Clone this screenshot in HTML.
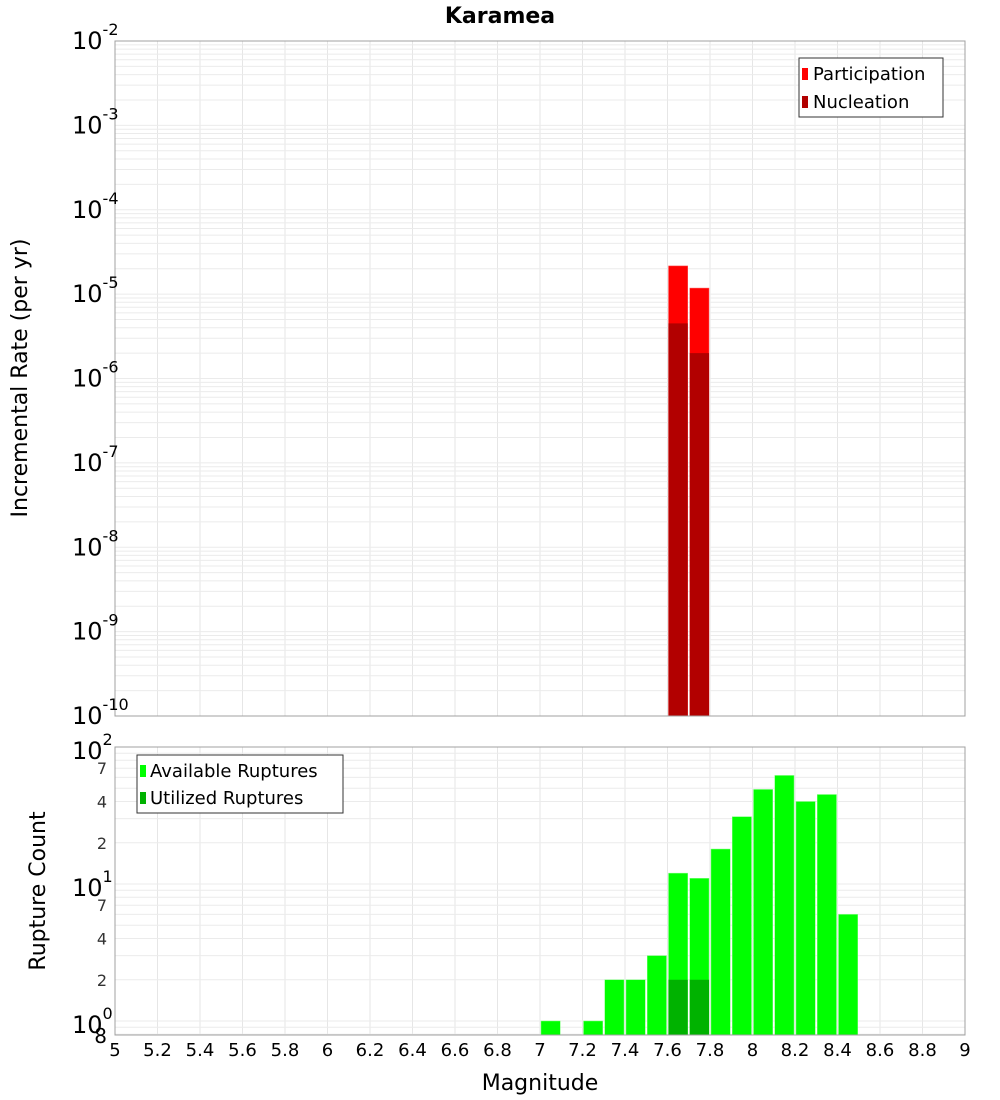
<!DOCTYPE html>
<html><head><meta charset="utf-8"><style>
body{margin:0;background:#fff;}
svg{display:block;font-family:"DejaVu Sans","Liberation Sans",sans-serif;}
</style></head><body>
<svg id="chart" width="1000" height="1100"></svg>
<script>
const magBins=[7.65,7.75];
const participation=[2.16e-5,1.18e-5];
const nucleation=[4.5e-6,2.0e-6];
const countBins=[7.05,7.25,7.35,7.45,7.55,7.65,7.75,7.85,7.95,8.05,8.15,8.25,8.35,8.45];
const available=[1,1,2,2,3,12,11,18,31,49,62,40,45,6];
const utilBins=[7.65,7.75];
const utilized=[2,2];
const xTicks=["5","5.2","5.4","5.6","5.8","6","6.2","6.4","6.6","6.8","7","7.2","7.4","7.6","7.8","8","8.2","8.4","8.6","8.8","9"];
const topExps=[-2,-3,-4,-5,-6,-7,-8,-9,-10];
const botMinor=[["7",70],["4",40],["2",20],["7",7],["4",4],["2",2]];

const NS="http://www.w3.org/2000/svg";
const svg=document.getElementById('chart');
function el(t,a,txt){const e=document.createElementNS(NS,t);for(const k in a)e.setAttribute(k,a[k]);if(txt!==undefined)e.textContent=txt;svg.appendChild(e);return e;}
const X0=115,X1=965;
const x=v=>X0+(v-5)/4*(X1-X0);
const T0=41,T1=716;
const yT=v=>T0+(-2-Math.log10(v))/8*(T1-T0);
const B0=747,B1=1035;
const yB=v=>1021-Math.log10(v)*137;

// plot backgrounds
let r=el('rect',{x:X0,y:T0,width:X1-X0,height:T1-T0,fill:'#fff'});

r=el('rect',{x:X0,y:B0,width:X1-X0,height:B1-B0,fill:'#fff'});


// grid
for(let i=0;i<xTicks.length;i++){const xv=x(5+i*0.2);
 let g=el('line',{x1:xv,x2:xv,y1:T0,y2:T1,stroke:'#e6e6e6'});
 g=el('line',{x1:xv,x2:xv,y1:B0,y2:B1,stroke:'#e6e6e6'});}
for(let e=-10;e<-2;e++)for(let m=1;m<10;m++){const yy=yT(m*Math.pow(10,e));
 const g=el('line',{x1:X0,x2:X1,y1:yy,y2:yy,stroke:'#ebebeb'});}
for(let e=-1;e<2;e++)for(let m=1;m<10;m++){const v=m*Math.pow(10,e);const yy=yB(v);if(yy>B1||yy<B0)continue;
 const g=el('line',{x1:X0,x2:X1,y1:yy,y2:yy,stroke:'#ebebeb'});}

const bw=x(5.1)-x(5)-2;
// top bars
magBins.forEach((m,i)=>{const b=el('rect',{x:x(m-0.05)+1,y:yT(participation[i]),width:bw,height:T1-yT(participation[i]),fill:'#ff0000',stroke:'#ff6060','stroke-width':0.5});
 });
magBins.forEach((m,i)=>{const b=el('rect',{x:x(m-0.05)+1,y:yT(nucleation[i]),width:bw,height:T1-yT(nucleation[i]),fill:'#b20000'});
 });
// bottom bars
countBins.forEach((m,i)=>{const b=el('rect',{x:x(m-0.05)+1,y:yB(available[i]),width:bw,height:B1-yB(available[i]),fill:'#00ff00',stroke:'#80ff80','stroke-width':0.5});
 });
utilBins.forEach((m,i)=>{const b=el('rect',{x:x(m-0.05)+1,y:yB(utilized[i]),width:bw,height:B1-yB(utilized[i]),fill:'#00b200'});
 });

// borders
r=el('rect',{x:X0,y:T0,width:X1-X0,height:T1-T0,fill:'none',stroke:'#a0a0a0'});
r=el('rect',{x:X0,y:B0,width:X1-X0,height:B1-B0,fill:'none',stroke:'#a0a0a0'});

// top y labels
topExps.forEach(e=>{const yy=yT(Math.pow(10,e));
 const t=el('text',{x:105,y:yy+8,'font-size':24,'text-anchor':'end'});
 t.innerHTML='10<tspan dy="-14" font-size="16">'+e+'</tspan>';
 t.setAttribute('x', 72);t.setAttribute('text-anchor','start');});
// bottom y labels
[[2,100],[1,10],[0,1]].forEach(([e,v])=>{const yy=yB(v);
 const t=el('text',{x:72,y:yy+12,'font-size':24});
 t.innerHTML='10<tspan dy="-14" font-size="16">'+e+'</tspan>';});
botMinor.forEach(([s,v])=>{const t=el('text',{x:107,y:yB(v)+6,'font-size':16,'text-anchor':'end',fill:'#333'},s);});
let t8=el('text',{x:107,y:1043,'font-size':20,'text-anchor':'end'},'8');
// x labels
xTicks.forEach((s,i)=>{const t=el('text',{x:x(5+i*0.2),y:1056,'font-size':18,'text-anchor':'middle'},s);});

// titles
let tt=el('text',{x:500,y:23,'font-size':22,'font-weight':'bold','text-anchor':'middle'},'Karamea');
tt=el('text',{x:540,y:1090,'font-size':22,'text-anchor':'middle'},'Magnitude');
tt=el('text',{x:0,y:0,'font-size':22,'text-anchor':'middle',transform:'translate(27,378) rotate(-90)'},'Incremental Rate (per yr)');
tt=el('text',{x:0,y:0,'font-size':22,'text-anchor':'middle',transform:'translate(45,891) rotate(-90)'},'Rupture Count');

// legends
let lg=el('rect',{x:799,y:58,width:144,height:59,fill:'#fff',stroke:'#333'});
let s=el('rect',{x:802,y:68,width:6,height:12,fill:'#ff0000'});
s=el('text',{x:813,y:80,'font-size':18},'Participation');
s=el('rect',{x:802,y:96,width:6,height:12,fill:'#b20000'});
s=el('text',{x:813,y:108,'font-size':18},'Nucleation');
lg=el('rect',{x:137,y:755,width:206,height:58,fill:'#fff',stroke:'#333'});
s=el('rect',{x:140,y:765,width:6,height:12,fill:'#00ff00'});
s=el('text',{x:150,y:777,'font-size':18},'Available Ruptures');
s=el('rect',{x:140,y:792,width:6,height:12,fill:'#00b200'});
s=el('text',{x:150,y:804,'font-size':18},'Utilized Ruptures');
</script>
</body></html>
